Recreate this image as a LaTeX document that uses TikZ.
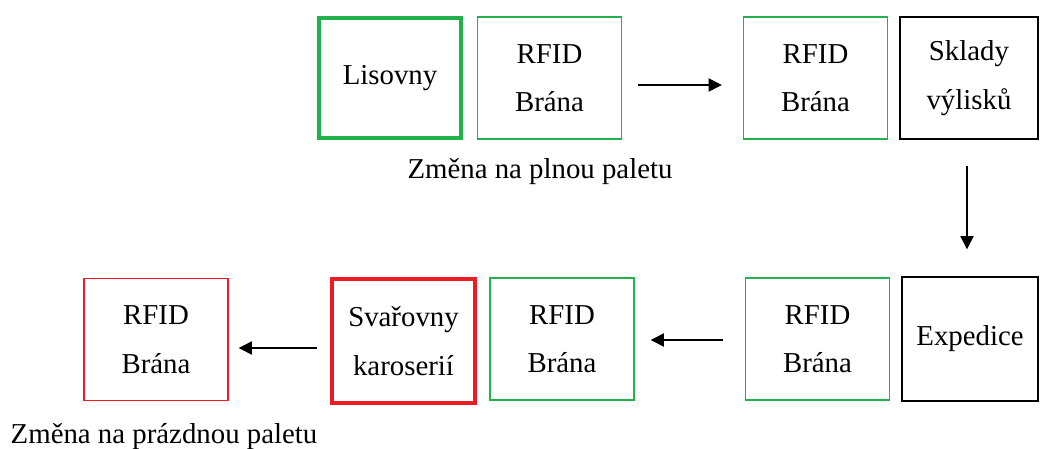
\documentclass[tikz,border=0pt]{standalone}
\usepackage{fontspec}
\setmainfont{Liberation Serif}
\usetikzlibrary{arrows.meta}
\definecolor{palgreen}{RGB}{34,177,76}
\definecolor{palred}{RGB}{237,28,36}
\tikzset{
  gatebox/.style={draw=palgreen,line width=1pt,minimum width=3.6cm,minimum height=3.05cm,
    inner sep=0pt,align=center,font=\fontsize{20.5}{34.5}\selectfont},
  hallbox/.style={gatebox,line width=2.8pt},
  flowarrow/.style={-{Triangle[length=0.33cm,width=0.33cm]},line width=1pt},
  notelabel/.style={font=\fontsize{20.5}{24}\selectfont,anchor=base}
}
\begin{document}
\begin{tikzpicture}[x=0.025cm,y=-0.025cm]
\useasboundingbox (0,0) rectangle (1040,448);
% horni rada
\node[hallbox,minimum width=3.55cm,minimum height=3cm] (lis) at (390,78) {Lisovny};
\node[gatebox] (rfidA) at (549.5,78) {RFID\\Brána};
\node[gatebox] (rfidB) at (815.5,78) {RFID\\Brána};
\node[gatebox,draw=black,minimum width=3.45cm] (sklady) at (969,78) {Sklady\\výlisků};
\node[notelabel] (plna) at (540,178) {Změna na plnou paletu};
% dolni rada
\node[gatebox,draw=palred] (rfidE) at (156,339.5) {RFID\\Brána};
\node[hallbox,draw=palred,minimum width=3.575cm,minimum height=3.1cm] (svar) at (403.5,341) {Svařovny\\karoserií};
\node[gatebox] (rfidD) at (562,339) {RFID\\Brána};
\node[gatebox] (rfidC) at (817.5,339) {RFID\\Brána};
\node[gatebox,draw=black,minimum width=3.4cm,minimum height=3.1cm] (exp) at (970,339) {Expedice};
\node[notelabel] (prazdna) at (164,443) {Změna na prázdnou paletu};
% sipky
\draw[flowarrow,shorten <=16*0.025cm,shorten >=21*0.025cm] ([yshift=-0.175cm]rfidA.east) -- ([yshift=-0.175cm]rfidB.west);
\draw[flowarrow,shorten <=26*0.025cm,shorten >=27*0.025cm] ([xshift=-0.05cm]sklady.south) -- ([xshift=-0.05cm]sklady.south |- exp.north);
\draw[flowarrow,shorten <=22*0.025cm,shorten >=16*0.025cm] ([yshift=-0.025cm]rfidC.west) -- ([yshift=-0.025cm]rfidD.east);
\draw[flowarrow,shorten <=13*0.025cm,shorten >=10*0.025cm] ([yshift=-0.175cm]svar.west) -- ([yshift=-0.175cm]svar.west -| rfidE.east);
\end{tikzpicture}
\end{document}
